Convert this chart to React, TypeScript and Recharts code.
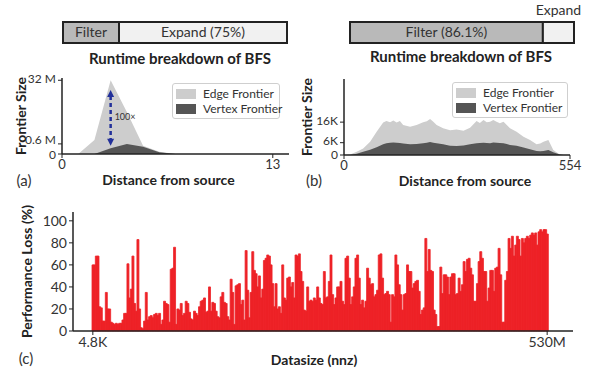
import React from 'react'
import {
  AreaChart, Area, BarChart, Bar, XAxis, YAxis, Legend, ReferenceLine, LabelList, Label,
} from 'recharts'

const FONT = 'Lato, "Noto Sans", sans-serif'
const INK = '#222'
const TEXT = '#333'

// runtime breakdown (percent of BFS time)
const STAGE_A = { filter: 25, expand: 75 }
const STAGE_A_LABELS = ['Filter', 'Expand (75%)']
const STAGE_B = { filter: 86.1, expand: 13.9 }
const STAGE_B_LABELS = ['Filter (86.1%)', 'Expand']

// (a) frontier size per BFS level, millions
const DIST_A = [0, 1, 2, 3, 4, 5, 6, 7, 8, 9, 10, 11, 12, 13]
const EDGE_A = [0, 0, 1.15, 32, 10.4, 0.4, 0.03, 0, 0, 0, 0, 0, 0, 0]
const VERTEX_A = [0, 0, 0, 0.2, 0.6, 0.3, 0.02, 0, 0, 0, 0, 0, 0, 0]
const Y_TICKS_A = [0, 0.6, 32]
const Y_LABELS_A = ['0', '0.6 M', '32 M']
const ARROW_A = { x: 3, top: 24.1, bottom: 0.41, text: '100×' }

// (b) frontier size per BFS level, thousands
const DIST_B = [0, 15, 31, 47, 64, 80, 96, 104, 113, 121, 129, 137, 145, 162, 178, 194, 203, 211, 219, 227, 243, 260, 276, 293, 309, 325, 333, 342, 350, 358, 366, 374, 382, 391, 399, 407, 423, 440, 456, 472, 481, 489, 501, 513, 529, 538, 554]
const EDGE_B = [0, 0.2, 1.6, 3.2, 6.5, 11.3, 15.8, 16.6, 15.9, 16.8, 15.8, 16.6, 14.6, 13.8, 14.6, 16.0, 16.4, 17.5, 16.2, 14.6, 13.0, 12.1, 12.4, 11.8, 13.3, 16.5, 15.6, 17.0, 16.0, 16.2, 17.0, 16.2, 15.4, 16.2, 14.6, 13.0, 11.3, 8.9, 7.3, 5.2, 5.6, 6.5, 7.3, 2.4, 0.3, 0, 0]
const VERTEX_B = [0, 0, 0.6, 1.6, 2.6, 3.8, 5.2, 5.7, 6.0, 6.1, 6.0, 5.8, 5.6, 5.2, 5.3, 5.7, 6.0, 6.3, 6.0, 5.7, 5.2, 4.5, 4.4, 4.6, 5.2, 5.7, 5.8, 6.0, 5.8, 5.7, 6.1, 6.0, 5.8, 5.7, 5.3, 4.9, 4.5, 3.6, 2.8, 1.9, 1.8, 1.9, 2.4, 1.3, 0.3, 0, 0]
const Y_TICKS_B = [0, 6, 16]
const Y_LABELS_B = ['0', '6K', '16K']

// (c) performance loss per dataset, sorted by nnz
const LOSS = [
  60, 60, 68, 68, 22, 21, 9, 9, 35, 20,
  20, 8, 7, 6, 7, 6, 7, 7, 10, 16,
  16, 61, 30, 38, 68, 25, 18, 83, 20, 3,
  2, 9, 35, 10, 13, 14, 12, 15, 16, 14,
  16, 6, 10, 27, 25, 24, 8, 56, 57, 76,
  6, 20, 19, 25, 14, 16, 27, 25, 17, 11,
  10, 18, 16, 14, 22, 27, 28, 30, 17, 18,
  40, 18, 26, 25, 18, 13, 12, 31, 35, 26,
  25, 13, 10, 47, 35, 6, 41, 42, 43, 24,
  28, 10, 73, 37, 12, 35, 72, 55, 52, 40,
  50, 30, 38, 64, 66, 69, 68, 60, 43, 22,
  43, 20, 22, 16, 60, 30, 28, 48, 49, 40,
  44, 30, 69, 68, 70,
  54, 45, 19, 18, 40, 27, 28, 27, 30, 28,
  40, 30, 25, 24, 54, 30, 31, 45, 69, 33,
  24, 30, 40, 40, 45, 27, 24, 66, 68, 48,
  24, 31, 40, 66, 69, 48, 24, 28, 21, 27,
  57, 48, 42, 43, 31, 33, 37, 69, 70, 48,
  33, 34, 36, 33, 8, 33, 31, 69, 60, 42,
  33, 19, 33, 34, 60, 54, 54, 39, 43, 45,
  46, 36, 15, 19, 21, 84, 54, 74, 55, 54,
  19, 15, 4, 4, 58, 34, 51, 51, 49, 33,
  49, 52, 52, 33, 34, 48, 36, 42, 63, 54,
  65, 66, 57, 51, 27, 27, 43, 63, 72, 66,
  54, 54, 27, 39, 55, 55, 36, 57, 58, 75,
  51, 8, 8, 46, 54, 84, 75, 86, 68, 78,
  86, 83, 68, 84, 80, 84, 86, 84, 87, 89,
  87, 89, 78, 90, 92, 90, 92, 92, 88,
]
const X_LABELS_C = ['4.8K', '530M']
const Y_TICKS_C = [0, 20, 40, 60, 80, 100]

const SERIES_COLORS: Record<string, string> = {
  'Edge Frontier': '#cdcdcd',
  'Vertex Frontier': '#555555',
}
const RED = '#ee2227'

const frontierA = DIST_A.map((d, i) => ({ d, edge: EDGE_A[i], vertex: VERTEX_A[i] }))
const frontierB = DIST_B.map((d, i) => ({ d, edge: EDGE_B[i], vertex: VERTEX_B[i] }))
const lossData = LOSS.map((loss, i) => ({ i, loss }))

const tick = { fill: TEXT, fontSize: 13 }
const tickC = { fill: TEXT, fontSize: 14 }
const axisLine = { stroke: INK, strokeWidth: 1.5 }
const axisTitle = { fontWeight: 700, fontSize: 14, fill: INK }

function Caption({ x, y, children, bold = false, size = 15 }: any) {
  return (
    <div style={{
      position: 'absolute', left: x, top: y, transform: 'translate(-50%, -50%)',
      fontWeight: bold ? 700 : 400, fontSize: size, color: bold ? INK : TEXT, whiteSpace: 'nowrap',
    }}>
      {children}
    </div>
  )
}

// the two lowest y labels sit close together, so spread them a little as in the original
function makeFrontierTick(values: number[], labels: string[], nudge: number[]) {
  return function FrontierTick(props: any) {
    const { x, y, payload } = props
    const idx = values.indexOf(payload.value)
    return (
      <text x={x} y={y + (nudge[idx] || 0)} textAnchor="end" dominantBaseline="middle" fontSize={12} fill={TEXT}>
        {labels[idx]}
      </text>
    )
  }
}

function FrontierLegend({ payload, width }: any) {
  return (
    <div style={{
      width, boxSizing: 'border-box', border: '1px solid #cfcfcf', borderRadius: 3,
      background: 'rgba(255,255,255,0.85)', padding: '2px 3px', fontSize: 12, color: TEXT, whiteSpace: 'nowrap',
    }}>
      {(payload || []).map((p: any) => (
        <div key={p.value} style={{ display: 'flex', alignItems: 'center', height: 15 }}>
          <span style={{ width: 20, height: 10, flexShrink: 0, background: SERIES_COLORS[p.value], marginRight: 7 }} />
          <span>{p.value}</span>
        </div>
      ))}
    </div>
  )
}

function DoubleArrow(props: any) {
  const { x1, y1, y2 } = props
  const top = Math.min(y1, y2)
  const bottom = Math.max(y1, y2)
  const c = '#22309a'
  return (
    <g>
      <line x1={x1} y1={top + 6} x2={x1} y2={bottom - 6} stroke={c} strokeWidth={2.5} strokeDasharray="4 3" />
      <polygon points={`${x1},${top} ${x1 - 3.5},${top + 7} ${x1 + 3.5},${top + 7}`} fill={c} />
      <polygon points={`${x1},${bottom} ${x1 - 3.5},${bottom - 7} ${x1 + 3.5},${bottom - 7}`} fill={c} />
      <text x={x1 + 4} y={(top + bottom) / 2} fontSize={9} fill={TEXT} dominantBaseline="middle">{ARROW_A.text}</text>
    </g>
  )
}

function StageBar({ stage, labels, showExpandAbove, left, top, margin }: any) {
  const row = [{ name: 'BFS', ...stage, filterLabel: labels[0], expandLabel: labels[1] }]
  const w = margin.left + margin.right + 224
  return (
    <div style={{ position: 'absolute', left, top }}>
      <BarChart width={w} height={margin.top + margin.bottom + 21} data={row} layout="vertical" margin={margin} barCategoryGap={0}>
        <XAxis type="number" domain={[0, 100]} hide />
        <YAxis type="category" dataKey="name" hide />
        <Bar dataKey="filter" stackId="s" fill="#b9b9b9" stroke={INK} strokeWidth={2} isAnimationActive={false}>
          <LabelList dataKey="filterLabel" position="center" fill={TEXT} fontSize={14} />
        </Bar>
        <Bar dataKey="expand" stackId="s" fill="#f1f1f1" stroke={INK} strokeWidth={2} isAnimationActive={false}>
          <LabelList dataKey="expandLabel" position={showExpandAbove ? 'top' : 'center'} offset={7} fill={TEXT} fontSize={14} />
        </Bar>
      </BarChart>
    </div>
  )
}

export default function App() {
  return (
    <div style={{ position: 'absolute', left: 0, top: 0, width: 589, height: 370, background: '#fff', fontFamily: FONT, overflow: 'hidden' }}>
      {/* top stage bars */}
      <StageBar stage={STAGE_A} labels={STAGE_A_LABELS} left={61} top={20} margin={{ top: 2, right: 2, bottom: 2, left: 2 }} />
      <StageBar stage={STAGE_B} labels={STAGE_B_LABELS} showExpandAbove left={348} top={0} margin={{ top: 22, right: 15, bottom: 2, left: 2 }} />
      <Caption x={180} y={58} bold>Runtime breakdown of BFS</Caption>
      <Caption x={461} y={56} bold>Runtime breakdown of BFS</Caption>

      {/* (a) */}
      <div style={{ position: 'absolute', left: 0, top: 70 }}>
        <AreaChart width={300} height={130} data={frontierA} margin={{ top: 8, right: 11, bottom: 0, left: 0 }}>
          <XAxis dataKey="d" type="number" domain={[0, 14]} ticks={[0, 13]} height={46} tick={tick} axisLine={axisLine} tickLine={{ stroke: INK }} tickSize={4}>
            <Label value="Distance from source" position="insideBottom" offset={15} dx={-7} style={axisTitle} />
          </XAxis>
          <XAxis xAxisId="top" orientation="top" type="number" domain={[0, 14]} height={0} tick={false} tickLine={false} axisLine={axisLine} />
          <YAxis type="number" scale="sqrt" domain={[0, 34]} ticks={Y_TICKS_A} width={62} interval={0}
            tick={makeFrontierTick(Y_TICKS_A, Y_LABELS_A, [2, -3, 0])} axisLine={axisLine} tickLine={{ stroke: INK }} tickSize={4}>
            <Label value="Frontier Size" angle={-90} position="insideLeft" offset={21} style={{ ...axisTitle, textAnchor: 'middle' }} />
          </YAxis>
          <YAxis yAxisId="right" orientation="right" type="number" domain={[0, 1]} width={0} tick={false} tickLine={false} axisLine={axisLine} />
          <Area dataKey="edge" name="Edge Frontier" type="linear" fill={SERIES_COLORS['Edge Frontier']} fillOpacity={1} stroke="none" isAnimationActive={false} />
          <Area dataKey="vertex" name="Vertex Frontier" type="linear" fill={SERIES_COLORS['Vertex Frontier']} fillOpacity={1} stroke="none" isAnimationActive={false} />
          <ReferenceLine segment={[{ x: ARROW_A.x, y: ARROW_A.top }, { x: ARROW_A.x, y: ARROW_A.bottom }]} shape={DoubleArrow} />
          <Legend layout="vertical" align="center" verticalAlign="middle"
            wrapperStyle={{ left: 172, top: 13, width: 108 }} content={(p: any) => <FrontierLegend {...p} width={108} />} />
        </AreaChart>
      </div>
      <Caption x={24} y={180}>(a)</Caption>

      {/* (b) */}
      <div style={{ position: 'absolute', left: 295, top: 70 }}>
        <AreaChart width={294} height={130} data={frontierB} margin={{ top: 9, right: 19, bottom: 0, left: 0 }}>
          <XAxis dataKey="d" type="number" domain={[0, 554]} ticks={[0, 554]} height={45} tick={tick} axisLine={axisLine} tickLine={{ stroke: INK }} tickSize={4}>
            <Label value="Distance from source" position="insideBottom" offset={14} dx={8} style={axisTitle} />
          </XAxis>
          <XAxis xAxisId="top" orientation="top" type="number" domain={[0, 554]} height={0} tick={false} tickLine={false} axisLine={axisLine} />
          <YAxis type="number" domain={[0, 37]} ticks={Y_TICKS_B} width={49} interval={0}
            tick={makeFrontierTick(Y_TICKS_B, Y_LABELS_B, [1, -1, 0])} axisLine={axisLine} tickLine={{ stroke: INK }} tickSize={4}>
            <Label value="Frontier Size" angle={-90} position="insideLeft" offset={12} style={{ ...axisTitle, textAnchor: 'middle' }} />
          </YAxis>
          <YAxis yAxisId="right" orientation="right" type="number" domain={[0, 1]} width={0} tick={false} tickLine={false} axisLine={axisLine} />
          <Area dataKey="edge" name="Edge Frontier" type="linear" fill={SERIES_COLORS['Edge Frontier']} fillOpacity={1} stroke="none" isAnimationActive={false} />
          <Area dataKey="vertex" name="Vertex Frontier" type="linear" fill={SERIES_COLORS['Vertex Frontier']} fillOpacity={1} stroke="none" isAnimationActive={false} />
          <Legend layout="vertical" align="center" verticalAlign="middle"
            wrapperStyle={{ left: 157, top: 12, width: 116 }} content={(p: any) => <FrontierLegend {...p} width={116} />} />
        </AreaChart>
      </div>
      <Caption x={314} y={180}>(b)</Caption>

      {/* (c) */}
      <div style={{ position: 'absolute', left: 0, top: 200 }}>
        <BarChart width={589} height={170} data={lossData} margin={{ top: 12, right: 16, bottom: 0, left: 0 }} barCategoryGap={0} barGap={0}>
          <XAxis dataKey="i" type="category" ticks={[0, LOSS.length - 1]} interval={0} padding={{ left: 19, right: 25 }}
            tickFormatter={(v: number) => (v === 0 ? X_LABELS_C[0] : X_LABELS_C[1])} height={39} tick={tickC} axisLine={axisLine} tickLine={{ stroke: INK }} tickSize={4}>
            <Label value="Datasize (nnz)" position="insideBottom" offset={5} dx={-9} style={axisTitle} />
          </XAxis>
          <XAxis xAxisId="top" orientation="top" type="number" domain={[0, 1]} height={0} tick={false} tickLine={false} axisLine={axisLine} />
          <YAxis type="number" domain={[0, 108]} ticks={Y_TICKS_C} width={73} interval={0} tick={tickC} axisLine={axisLine} tickLine={{ stroke: INK }} tickSize={4}>
            <Label value="Performance Loss (%)" angle={-90} position="insideLeft" offset={27} style={{ ...axisTitle, textAnchor: 'middle' }} />
          </YAxis>
          <YAxis yAxisId="right" orientation="right" type="number" domain={[0, 1]} width={0} tick={false} tickLine={false} axisLine={axisLine} />
          <Bar dataKey="loss" fill={RED} stroke={RED} strokeWidth={0.8} isAnimationActive={false} />
        </BarChart>
      </div>
      <Caption x={26} y={358}>(c)</Caption>
    </div>
  )
}
